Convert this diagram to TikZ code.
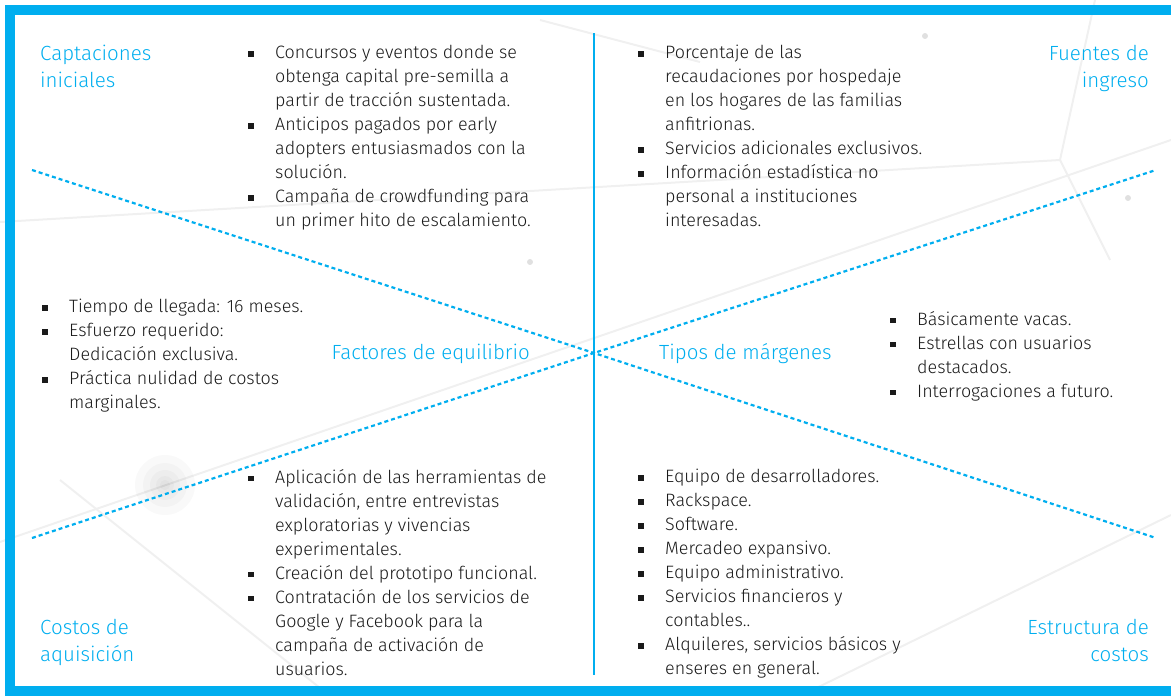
\documentclass[tikz,border=0pt]{standalone}
\usepackage{fontspec}
\setmainfont{Fira Sans}[UprightFont=* Light]
\usepackage{tikz}
\definecolor{cian}{HTML}{00AEEF}
\definecolor{texto}{HTML}{1A1A1A}
\tikzstyle{dashline} = [cian, line width=2.2pt, dash pattern=on 4pt off 3pt]
\tikzstyle{fondo} = [black!6, line width=2pt]
\tikzstyle{titulo} = [cian, font=\fontsize{20.5}{27}\selectfont, inner sep=0pt]
\tikzstyle{lista} = [texto, font=\fontsize{17.9}{24}\selectfont, align=left, inner sep=0pt, anchor=north west]
\newcommand{\bul}{\llap{\rule[2pt]{5.5pt}{5.5pt}\hspace{21.5pt}}}

\begin{document}
\begin{tikzpicture}[x=1pt,y=-1pt]
\useasboundingbox (0,0) rectangle (1171,696);
% background network
\draw[fondo] (0,222) -- (1060,160) -- (1095,0);
\draw[fondo] (1060,160) -- (1110,260);
\draw[fondo] (0,542) -- (1171,140);
\draw[fondo] (800,696) -- (1171,515);
\draw[fondo] (540,20) -- (700,62);
\draw[fondo] (60,480) -- (330,696);
\foreach \r in {30,22,15,9,5}
  \fill[black, opacity=0.025] (165,485) circle (\r);
\fill[black!12] (530,262) circle (3) (1128,198) circle (3) (925,36) circle (3);
% frame
\draw[cian, line width=10pt] (1190,10) -- (10,10) -- (10,691) -- (1190,691);
% axes
\coordinate (centro) at (594,353);
\coordinate (arriba) at (594,33);
\coordinate (abajo) at (594,675);
\coordinate (ul) at (32,170);
\coordinate (ll) at (32,538);
\coordinate (ur) at (1156,170);
\coordinate (lr) at (1156,538);
\draw[cian, line width=2pt] (arriba) -- (abajo);
\draw[dashline] (ul) -- (centro) -- (lr);
\draw[dashline] (ll) -- (centro) -- (ur);
% titles
\node[titulo, anchor=north west, align=left] (capt) at (40,45) {Captaciones\\iniciales};
\node[titulo, anchor=north east, align=right] (fuen) at (1149,45) {Fuentes de\\ingreso};
\node[titulo, anchor=north west, align=left] (cost) at (40,619) {Costos de\\aquisición};
\node[titulo, anchor=north east, align=right] (estr) at (1149,619) {Estructura de\\costos};
\node[titulo, anchor=east] (equi) at (530,354) {Factores de equilibrio};
\node[titulo, anchor=west] (marg) at (659,354) {Tipos de márgenes};
% lists
\node[lista] (l1) at (275,45) {\bul Concursos y eventos donde se\\obtenga capital pre-semilla a\\partir de tracción sustentada.\\
\bul Anticipos pagados por early\\adopters entusiasmados con la\\solución.\\
\bul Campaña de crowdfunding para\\un primer hito de escalamiento.};
\node[lista] (l2) at (665,45) {\bul Porcentaje de las\\recaudaciones por hospedaje\\en los hogares de las familias\\anfitrionas.\\
\bul Servicios adicionales exclusivos.\\
\bul Información estadística no\\personal a instituciones\\interesadas.};
\node[lista] (l3) at (69,299) {\bul Tiempo de llegada: 16 meses.\\
\bul Esfuerzo requerido:\\Dedicación exclusiva.\\
\bul Práctica nulidad de costos\\marginales.};
\node[lista] (l4) at (917,311) {\bul Básicamente vacas.\\
\bul Estrellas con usuarios\\destacados.\\
\bul Interrogaciones a futuro.};
\node[lista] (l5) at (275,469) {\bul Aplicación de las herramientas de\\validación, entre entrevistas\\exploratorias y vivencias\\experimentales.\\
\bul Creación del prototipo funcional.\\
\bul Contratación de los servicios de\\Google y Facebook para la\\campaña de activación de\\usuarios.};
\node[lista] (l6) at (665,469) {\bul Equipo de desarrolladores.\\
\bul Rackspace.\\
\bul Software.\\
\bul Mercadeo expansivo.\\
\bul Equipo administrativo.\\
\bul Servicios financieros y\\contables..\\
\bul Alquileres, servicios básicos y\\enseres en general.};
\end{tikzpicture}
\end{document}
